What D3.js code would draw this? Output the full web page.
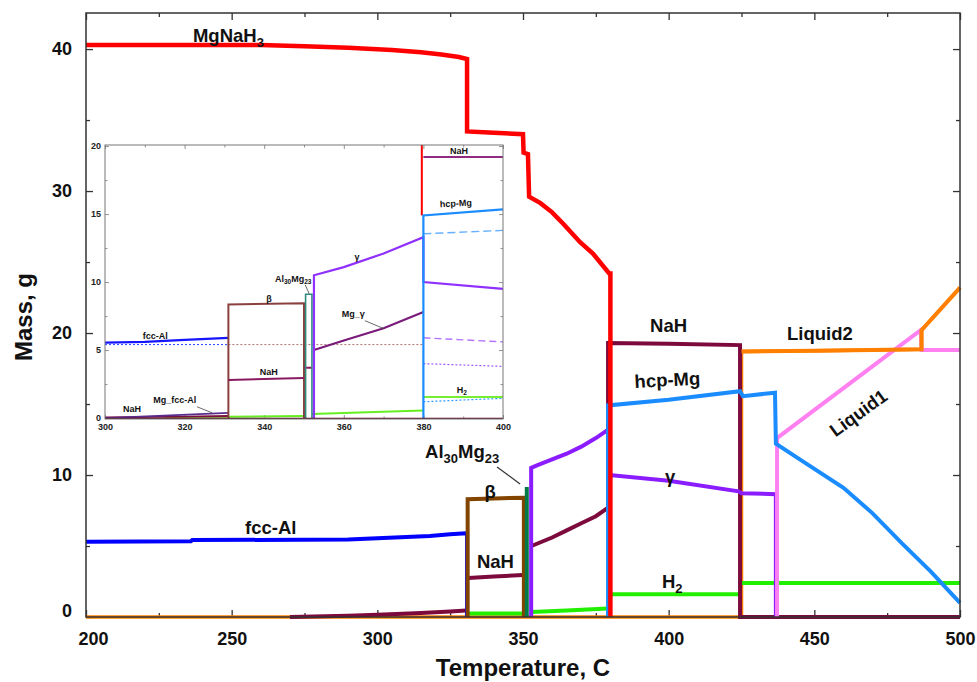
<!DOCTYPE html>
<html><head><meta charset="utf-8">
<script src="https://cdn.jsdelivr.net/npm/d3@7"></script>
<style>body{margin:0;background:#fff} svg{display:block} text{font-family:"Liberation Sans",Arial,sans-serif}</style>
</head><body><svg id="c" width="977" height="682"></svg>
<script>
// ---------- tick values ----------
const xTicksMain = [200,250,300,350,400,450,500];
const xMinorMain = [225,275,325,375,425,475];
const yTicksMain = [0,10,20,30,40];
const yMinorMain = [5,15,25,35];
const xTicksInset = [300,320,340,360,380,400];
const xMinorInset = [310,330,350,370,390];
const yTicksInset = [0,5,10,15,20];
const yMinorInset = [2.5,7.5,12.5,17.5];

// ---------- main chart series: [temperature C, mass g] ----------
const MgNaH3 = [[200,40.28],[260,40.28],[275,40.2],[290,40.1],[305,39.93],[315,39.78],[322,39.62],[328,39.44],[330.8,39.3],[330.8,34.2],[340,34.1],[350,34.0],[350.2,32.7],[351.7,32.6],[352.1,29.6],[356,29.15],[360,28.5],[363.8,27.7],[369.6,26.4],[374,25.6],[379.6,24.2],[380.0,24.2],[380.0,0]];
const fccAl = [[200,5.3],[236,5.33],[236.5,5.42],[290,5.45],[300,5.55],[318,5.7],[325,5.82],[330.5,5.9],[330.8,5.9],[330.8,0]];
const NaHlow = [[270,0],[290,0.08],[300,0.15],[315,0.28],[325,0.38],[330.5,0.45]];
const NaHbox = [[331.2,2.75],[340,2.85],[350,2.95]];
const MgGammaNaH = [[352.9,5.0],[360,5.6],[365,6.1],[370,6.6],[375,7.1],[379.2,7.7],[379.2,19.3],[400,19.25],[424.5,19.15],[424.5,0],[500,0]];
const beta = [[331,0],[331,8.3],[340,8.35],[350.3,8.4],[350.3,0]];
const Al30Mg23 = [[351.3,0],[351.3,9.15]];
const gamma = [[352.8,0],[352.8,10.5],[355,10.7],[360,11.1],[365,11.5],[370,12.0],[375,12.6],[379.3,13.2],[379.5,10.0],[400,9.6],[424,8.85],[425,8.72],[436.8,8.65],[436.8,0]];
const hcpMg = [[379.2,0],[379.2,14.9],[400,15.3],[424.5,15.9],[425.5,15.55],[436.5,15.8],[436.8,12.2],[445,11.1],[460,9.1],[470,7.3],[480,5.2],[490,3.2],[500,1.0]];
const H2a = [[331.2,0.25],[350,0.25]];
const H2b = [[352.9,0.35],[365,0.45],[379,0.6]];
const H2c = [[379.5,1.6],[425,1.6]];
const H2d = [[425,2.4],[500,2.4]];
const Liquid2 = [[200,0],[425,0],[425,18.7],[450,18.75],[470,18.8],[486.8,18.85],[486.8,20.2],[500,23.2]];
const Liquid1 = [[437.2,0],[437.2,12.6],[486.5,20.2],[486.8,18.8],[500,18.8]];

// ---------- inset series ----------
const iFccAl = [[300,5.55],[310,5.6],[320,5.75],[331,5.9]];
const iFccAlDot = [[300,5.4],[331,5.4]];
const iRefDot = [[331,5.4],[380,5.4]];
const iBase = [[300,-0.05],[400,-0.05]];
const iNaHlow = [[300,0.05],[320,0.1],[331,0.15]];
const iMgFccAl = [[300,0.0],[331,0.38]];
const iH2a = [[315,0.02],[331,0.02]];
const iH2b = [[331,0.1],[350,0.15]];
const iH2c = [[352,0.3],[380,0.55]];
const iH2d = [[380,1.55],[400,1.55]];
const iBeta = [[331,0],[331,8.35],[350,8.45],[350,0]];
const iNaHmid = [[331,2.8],[350,2.95]];
const iNaHstep = [[350,3.7],[352,3.7]];
const iAl30Mg23 = [[350.4,0],[350.4,9.1],[352,9.1],[352,0]];
const iGamma = [[352.5,0],[352.5,10.5],[360,11.1],[370,12.1],[380,13.3],[380,10.0],[400,9.5]];
const iMgGamma = [[352.5,5.0],[360,5.7],[370,6.6],[380,7.8]];
const iRed = [[379.6,14.9],[379.6,20.2]];
const iHcpMg = [[380,0],[380,14.9],[400,15.35]];
const iHcpDash = [[380,13.55],[400,13.8]];
const iNaHtop = [[380,19.2],[400,19.2]];
const iPurpleDash = [[380,5.9],[400,5.6]];
const iPurpleDot = [[380,4.0],[400,3.8]];
const iBlueDot = [[380,1.2],[400,1.45]];

// ---------- annotations (data coordinates) ----------
const mainLabels = [
  {t:236.7, v:40.5, parts:[["MgNaH",0],["3",1]], anchor:"start"},
  {t:254.6, v:5.85, parts:[["fcc-Al",0]], anchor:"start"},
  {t:338.7, v:8.38, parts:[["β",0]], anchor:"middle"},
  {t:334.2, v:3.45, parts:[["NaH",0]], anchor:"start"},
  {t:316.4, v:11.2, parts:[["Al",0],["30",1],["Mg",0],["23",1]], anchor:"start"},
  {t:393.6, v:20.07, parts:[["NaH",0]], anchor:"start"},
  {t:388.4, v:16.13, parts:[["hcp-Mg",0]], anchor:"start", rot:-3},
  {t:400.5, v:9.45, parts:[["γ",0]], anchor:"middle"},
  {t:397.7, v:2.04, parts:[["H",0],["2",1]], anchor:"start"},
  {t:440.6, v:19.5, parts:[["Liquid2",0]], anchor:"start"},
  {t:466.4, v:14.0, parts:[["Liquid1",0]], anchor:"middle", rot:-36}
];
const mainLeaders = [[[341.1,10.56],[349.0,9.37]]];
const insetLabels = [
  {t:386.7, v:19.45, parts:[["NaH",0]], anchor:"start"},
  {t:384.2, v:15.5, parts:[["hcp-Mg",0]], anchor:"start", rot:-3},
  {t:363.3, v:11.6, parts:[["γ",0]], anchor:"middle"},
  {t:342.7, v:10.0, parts:[["Al",0],["30",1],["Mg",0],["23",1]], anchor:"start"},
  {t:341.2, v:8.5, parts:[["β",0]], anchor:"middle"},
  {t:359.5, v:7.45, parts:[["Mg_γ",0]], anchor:"start"},
  {t:309.5, v:5.83, parts:[["fcc-Al",0]], anchor:"start"},
  {t:338.9, v:3.18, parts:[["NaH",0]], anchor:"start"},
  {t:388.4, v:1.86, parts:[["H",0],["2",1]], anchor:"start"},
  {t:304.5, v:0.46, parts:[["NaH",0]], anchor:"start"},
  {t:312.1, v:1.12, parts:[["Mg_fcc-Al",0]], anchor:"start"}
];
const insetLeaders = [[[350.3,9.8],[351.3,9.14]],[[365.3,7.16],[370.1,6.57]],[[323.1,0.83],[326.9,0.39]]];

// ---------- layout ----------
const svg = d3.select("#c");
const M = {l:86, r:960, t:13, b:617};
const x = d3.scaleLinear().domain([200,500]).range([M.l, M.r]);
const y = d3.scaleLinear().domain([0,42.54]).range([M.b, M.t]);
const I = {l:105, r:503, t:145, b:419};
const xi = d3.scaleLinear().domain([300,400]).range([I.l, I.r]);
const yi = d3.scaleLinear().domain([-0.07,20.08]).range([I.b, I.t]);

const C = {
  red:"#ff0000", blue:"#0000ff", maroon:"#7d0a3c", brown:"#834400", teal:"#007a45",
  purple:"#8a1cff", hcp:"#1a8cff", green:"#22ee00", orange:"#ff8000", pink:"#ff80f0"
};

function drawLine(g, xs, ys, data, color, w, dash){
  g.append("path").datum(data)
    .attr("d", d3.line().x(d=>xs(d[0])).y(d=>ys(d[1])))
    .attr("fill","none").attr("stroke",color).attr("stroke-width",w)
    .attr("stroke-dasharray", dash||null).attr("stroke-linejoin","miter");
}
function drawLabel(g, xs, ys, L, size, subSize, subDy){
  const t = g.append("text")
    .attr("transform", `translate(${xs(L.t)},${ys(L.v)}) rotate(${L.rot||0})`)
    .attr("text-anchor", L.anchor).attr("font-size", size).attr("font-weight","bold").attr("fill","#111");
  let prevSub = 0;
  L.parts.forEach(([s,sub])=>{
    const dy = sub && !prevSub ? subDy : (!sub && prevSub ? -subDy : 0);
    t.append("tspan").text(s).attr("dy", dy).attr("font-size", sub?subSize:size);
    prevSub = sub;
  });
}

// ---------- main axes ----------
const gAx = svg.append("g");
function axisG(axis, tx, ty){
  const g = gAx.append("g").attr("transform",`translate(${tx},${ty})`).call(axis);
  g.select(".domain").remove();
  g.selectAll(".tick line").attr("stroke","#333").attr("stroke-width",1.3);
  g.selectAll("text").attr("font-size",18).attr("font-weight","bold").attr("fill","#111")
    .attr("font-family",'"Liberation Sans",Arial,sans-serif');
  return g;
}
const gxb = axisG(d3.axisBottom(x).tickValues(xTicksMain).tickSize(-7).tickPadding(15).tickFormat(d3.format("d")), 0, M.b);
gxb.selectAll(".tick text").attr("dx", d=> d===200 ? 7 : 0);
axisG(d3.axisBottom(x).tickValues(xMinorMain).tickSize(-4).tickFormat(""), 0, M.b);
axisG(d3.axisTop(x).tickValues(xTicksMain).tickSize(-7).tickFormat(""), 0, M.t);
axisG(d3.axisTop(x).tickValues(xMinorMain).tickSize(-4).tickFormat(""), 0, M.t);
const gyl = axisG(d3.axisLeft(y).tickValues(yTicksMain).tickSize(-7).tickPadding(14).tickFormat(d3.format("d")), M.l, 0);
gyl.selectAll(".tick text").attr("dy", d=> d===0 ? "-0.05em" : "0.32em");
axisG(d3.axisLeft(y).tickValues(yMinorMain).tickSize(-4).tickFormat(""), M.l, 0);
axisG(d3.axisRight(y).tickValues(yTicksMain).tickSize(-7).tickFormat(""), M.r, 0);
axisG(d3.axisRight(y).tickValues(yMinorMain).tickSize(-4).tickFormat(""), M.r, 0);

// ---------- main lines ----------
const gL = svg.append("g");
drawLine(gL, x, y, Liquid2, C.orange, 3.5);
drawLine(gL, x, y, NaHlow, C.maroon, 4);
drawLine(gL, x, y, fccAl, C.blue, 4);
drawLine(gL, x, y, NaHbox, C.maroon, 4);
drawLine(gL, x, y, H2a, C.green, 4);
drawLine(gL, x, y, H2b, C.green, 4);
drawLine(gL, x, y, H2c, C.green, 4);
drawLine(gL, x, y, H2d, C.green, 4);
drawLine(gL, x, y, beta, C.brown, 4);
drawLine(gL, x, y, Al30Mg23, C.teal, 4);
drawLine(gL, x, y, MgGammaNaH, C.maroon, 4);
drawLine(gL, x, y, gamma, C.purple, 4);
drawLine(gL, x, y, Liquid1, C.pink, 4);
drawLine(gL, x, y, hcpMg, C.hcp, 4);
drawLine(gL, x, y, MgNaH3, C.red, 4.5);
drawLine(gL, x, y, Liquid2.slice(2), C.orange, 4);

// frame
svg.append("rect").attr("x",M.l).attr("y",M.t).attr("width",M.r-M.l).attr("height",M.b-M.t)
  .attr("fill","none").attr("stroke","#333").attr("stroke-width",1.5);

// main labels
const gT = svg.append("g");
mainLabels.forEach(L=>drawLabel(gT, x, y, L, 18.5, 13, 5));
mainLeaders.forEach(l=>drawLine(gT, x, y, l, "#333", 1.2));

// axis titles
svg.append("text").attr("x",(M.l+M.r)/2).attr("y",676).attr("text-anchor","middle")
  .attr("font-size",24).attr("font-weight","bold").attr("fill","#111").text("Temperature, C");
svg.append("text").attr("transform","translate(32,317) rotate(-90)").attr("text-anchor","middle")
  .attr("font-size",24).attr("font-weight","bold").attr("fill","#111").text("Mass, g");

// ---------- inset ----------
const gI = svg.append("g");
gI.append("rect").attr("x",I.l).attr("y",I.t).attr("width",I.r-I.l).attr("height",I.b-I.t).attr("fill","#fff");
svg.append("defs").append("clipPath").attr("id","ic").append("rect")
  .attr("x",I.l).attr("y",I.t).attr("width",I.r-I.l).attr("height",I.b-I.t);
function iaxis(axis, tx, ty){
  const g = gI.append("g").attr("transform",`translate(${tx},${ty})`).call(axis);
  g.select(".domain").remove();
  g.selectAll(".tick line").attr("stroke","#777").attr("stroke-width",0.8);
  g.selectAll("text").attr("font-size",9).attr("font-weight","bold").attr("fill","#222")
    .attr("font-family",'"Liberation Sans",Arial,sans-serif');
  return g;
}
iaxis(d3.axisBottom(xi).tickValues(xTicksInset).tickSize(-4).tickPadding(5).tickFormat(d3.format("d")), 0, I.b);
iaxis(d3.axisBottom(xi).tickValues(xMinorInset).tickSize(-2.5).tickFormat(""), 0, I.b);
iaxis(d3.axisTop(xi).tickValues(xTicksInset).tickSize(-4).tickFormat(""), 0, I.t);
iaxis(d3.axisTop(xi).tickValues(xMinorInset).tickSize(-2.5).tickFormat(""), 0, I.t);
iaxis(d3.axisLeft(yi).tickValues(yTicksInset).tickSize(-4).tickPadding(4).tickFormat(d3.format("d")), I.l, 0);
iaxis(d3.axisLeft(yi).tickValues(yMinorInset).tickSize(-2.5).tickFormat(""), I.l, 0);
iaxis(d3.axisRight(yi).tickValues(yTicksInset).tickSize(-4).tickFormat(""), I.r, 0);
iaxis(d3.axisRight(yi).tickValues(yMinorInset).tickSize(-2.5).tickFormat(""), I.r, 0);

const gIL = gI.append("g").attr("clip-path","url(#ic)");
drawLine(gIL, xi, yi, iRefDot, "#a05a5a", 0.9, "2,2");
drawLine(gIL, xi, yi, iFccAlDot, "#2040ff", 1, "2,2");
drawLine(gIL, xi, yi, iFccAl, "#1515ff", 2.2);
drawLine(gIL, xi, yi, iH2a, "#90e050", 1.5);
drawLine(gIL, xi, yi, iH2b, "#66ee22", 2);
drawLine(gIL, xi, yi, iH2c, "#66ee22", 2);
drawLine(gIL, xi, yi, iBlueDot, "#3399ff", 1.2, "2,2");
drawLine(gIL, xi, yi, iH2d, "#77ee33", 2);
drawLine(gIL, xi, yi, iNaHlow, "#7a1040", 1.8);
drawLine(gIL, xi, yi, iMgFccAl, "#5a2c8c", 1.8);
drawLine(gIL, xi, yi, iBeta, "#8b4040", 2);
drawLine(gIL, xi, yi, iNaHmid, "#8a1a60", 2);
drawLine(gIL, xi, yi, iNaHstep, "#8a1a60", 2);
drawLine(gIL, xi, yi, iAl30Mg23, "#2e8b80", 1.6);
drawLine(gIL, xi, yi, iMgGamma, "#7a1a7a", 2.2);
drawLine(gIL, xi, yi, iGamma, "#9030ff", 2.2);
drawLine(gIL, xi, yi, iPurpleDash, "#b577ff", 1.4, "7,4");
drawLine(gIL, xi, yi, iPurpleDot, "#9b55ff", 1.2, "2,2");
drawLine(gIL, xi, yi, iHcpDash, "#66b0ff", 1.4, "8,4");
drawLine(gIL, xi, yi, iRed, "#ff0000", 2);
drawLine(gIL, xi, yi, iHcpMg, "#1a8cff", 2.2);
drawLine(gIL, xi, yi, iNaHtop, "#902c80", 2);
drawLine(gIL, xi, yi, iBase, "#5a0a20", 2);

gI.append("rect").attr("x",I.l).attr("y",I.t).attr("width",I.r-I.l).attr("height",I.b-I.t)
  .attr("fill","none").attr("stroke","#777").attr("stroke-width",1);
insetLabels.forEach(L=>drawLabel(gI, xi, yi, L, 9, 6.5, 2));
insetLeaders.forEach(l=>drawLine(gI, xi, yi, l, "#444", 0.8));
</script></body></html>
